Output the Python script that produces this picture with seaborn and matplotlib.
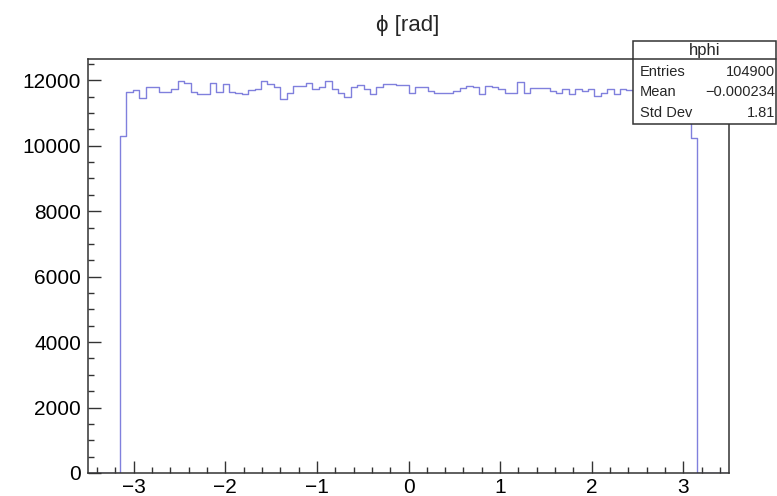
import numpy as np
import pandas as pd
import matplotlib
matplotlib.use("Agg")
import matplotlib.pyplot as plt
from matplotlib.ticker import MultipleLocator
import seaborn as sns

# ---- data (100 bins from -3.5 to 3.5) ----
bin_lo, bin_hi, n_bins = -3.5, 3.5, 100
counts_visible = [
    10300, 11640, 11690, 11470, 11800, 11800, 11640, 11640, 11720, 11980,
    11930, 11650, 11590, 11590, 11910, 11650, 11880, 11650, 11620, 11590,
    11690, 11720, 11980, 11880, 11780, 11420, 11620, 11830, 11830, 11930,
    11720, 11780, 11980, 11720, 11620, 11500, 11780, 11850, 11720, 11570,
    11780, 11880, 11900, 11850, 11850, 11620, 11780, 11780, 11680, 11620,
    11620, 11620, 11670, 11750, 11830, 11780, 11570, 11830, 11780, 11720,
    11620, 11620, 11950, 11620, 11750, 11750, 11750, 11670, 11620, 11720,
    11570, 11720, 11670, 11720, 11520, 11600, 11720, 11570, 11720, 11700,
    11650, 11750, 11680, 11720, 11800, 11660, 11700, 11750, 11680, 10250,
]
leading_empty = 5
trailing_empty = 5
counts = [0] * leading_empty + counts_visible + [0] * trailing_empty

title_text = "ϕ [rad]"
stats_name = "hphi"
stats_labels = ["Entries", "Mean", "Std Dev"]
stats_values = ["104900", "\u22120.000234", "1.81"]

# ---- figure ----
sns.set_style("white")
plt.rcParams["font.family"] = ["Liberation Sans", "DejaVu Sans"]

W, H = 777, 496
fig = plt.figure(figsize=(W / 100, H / 100), dpi=100)
ax = fig.add_axes([88 / W, 1 - 473 / H, (729 - 88) / W, (473 - 59) / H])

edges = np.linspace(bin_lo, bin_hi, n_bins + 1)
centers = 0.5 * (edges[:-1] + edges[1:])
df = pd.DataFrame({"phi": centers, "n": np.asarray(counts, dtype=float)})
sns.histplot(data=df, x="phi", weights="n", bins=n_bins, binrange=(bin_lo, bin_hi),
             element="step", fill=False,
             color="#8080dd", linewidth=1.0, ax=ax, zorder=1)

ax.set_xlim(bin_lo, bin_hi)
ax.set_ylim(0, 12650)
ax.set_xlabel("")
ax.set_ylabel("")

ax.xaxis.set_major_locator(MultipleLocator(1))
ax.xaxis.set_minor_locator(MultipleLocator(0.2))
ax.yaxis.set_major_locator(MultipleLocator(2000))
ax.yaxis.set_minor_locator(MultipleLocator(500))
ax.tick_params(which="both", direction="in", top=False, right=False,
               bottom=True, left=True,
               color="#333333", width=1.0, labelsize=15, labelcolor="black")
ax.tick_params(which="major", length=9)
ax.tick_params(which="minor", length=4.5)
ax.tick_params(axis="x", which="both", pad=3.5)
ax.tick_params(axis="y", which="both", pad=5)
for s in ax.spines.values():
    s.set_visible(True)
    s.set_color("#333333")
    s.set_linewidth(1.1)
    s.set_zorder(3)

fig.text(408 / W, 1 - 25 / H, title_text, ha="center", va="center", fontsize=16)

# ---- stats box ----
x0, x1 = 633 / W, 776 / W
yt, yb = 1 - 41 / H, 1 - 124 / H
ysep = 1 - 58.5 / H
box = plt.Rectangle((x0, yb), x1 - x0, yt - yb, transform=fig.transFigure,
                    facecolor="white", edgecolor="#333333", linewidth=1.1, zorder=10)
fig.add_artist(box)
fig.add_artist(plt.Line2D([x0, x1], [ysep, ysep], transform=fig.transFigure,
                          color="#333333", linewidth=1.1, zorder=11))
fig.text((x0 + x1) / 2, 1 - 51 / H, stats_name, ha="center", va="center",
         fontsize=12, zorder=12)
row_y = [71.7, 92.5, 113.3]
for lab, val, yy in zip(stats_labels, stats_values, row_y):
    fig.text(640 / W, 1 - yy / H, lab, ha="left", va="center", fontsize=10.5, zorder=12)
    fig.text(775 / W, 1 - yy / H, val, ha="right", va="center", fontsize=10.5, zorder=12)

fig.savefig("out.png", dpi=100)
